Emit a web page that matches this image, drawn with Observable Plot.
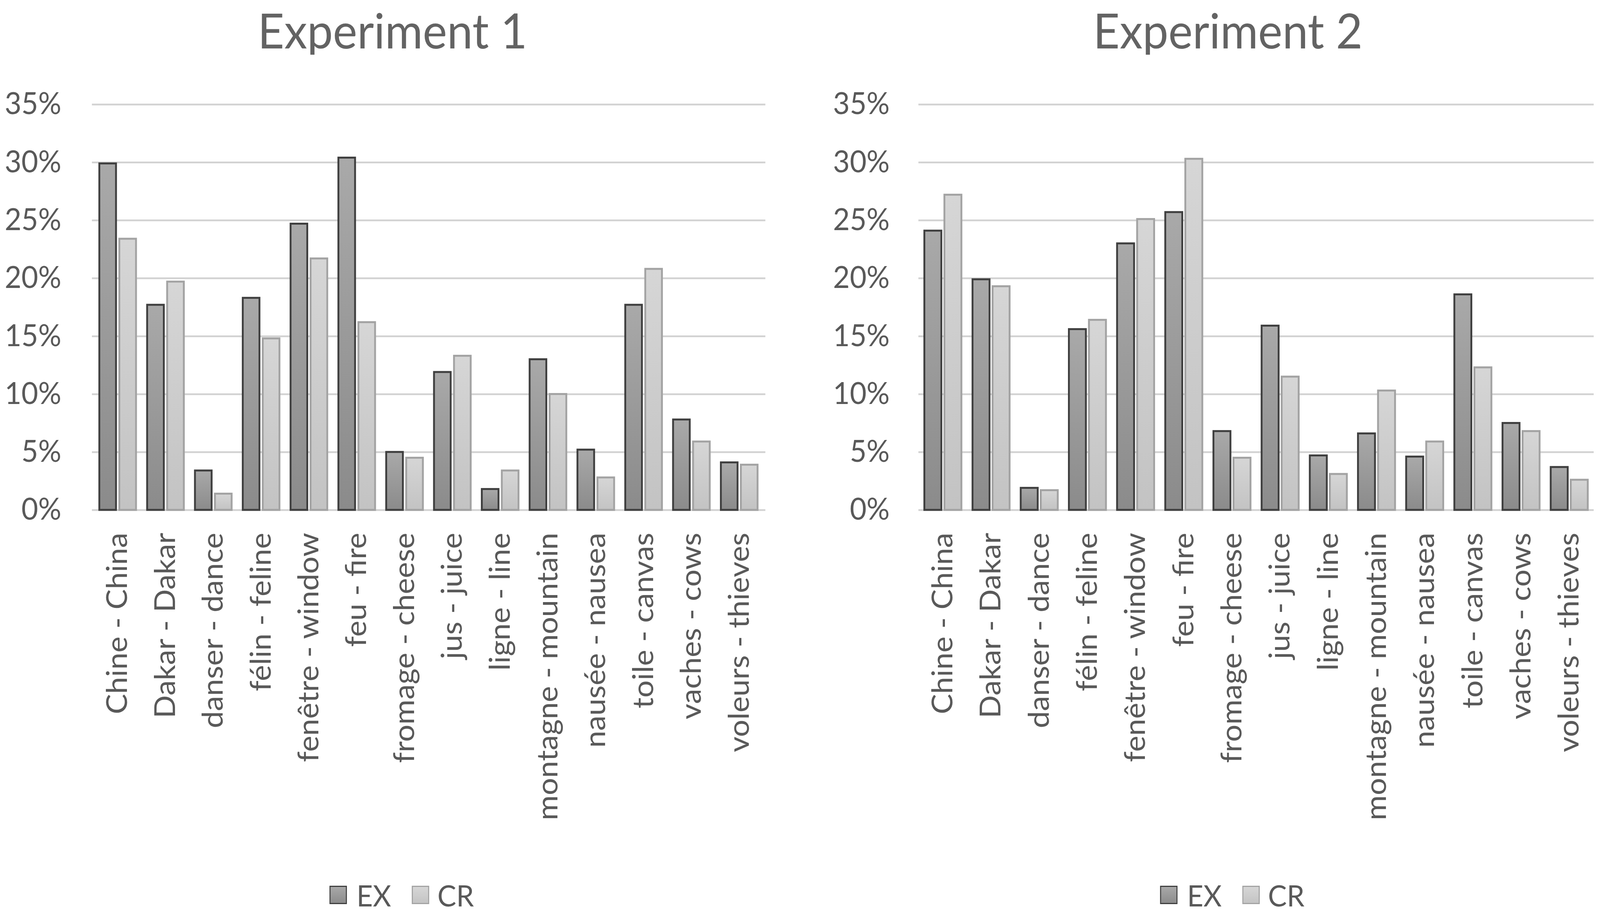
<!DOCTYPE html>
<html>
<head>
<meta charset="utf-8">
<script src="https://cdn.jsdelivr.net/npm/d3@7"></script>
<script src="https://cdn.jsdelivr.net/npm/@observablehq/plot@0.6"></script>
<style>
  html, body { margin: 0; padding: 0; background: #fff; overflow: hidden; }
  #wrap { position: absolute; left: 0; top: 0; width: 4317px; height: 2347px; transform-origin: 0 0; font-family: Lato, "Open Sans", sans-serif; background: #fff; }
  .title { position: absolute; top: 2px; font-size: 124px; color: #636363; white-space: nowrap; transform: translateX(-50%); }
  .chart { position: absolute; top: 140px; }
  .legend { position: absolute; top: 2250px; height: 80px; display: flex; align-items: center; font-size: 76px; color: #595959; }
  .sw { width: 41px; height: 41px; border: 3px solid; display: inline-block; box-sizing: content-box; }
</style>
</head>
<body>
<div id="wrap">
<div class="title" style="left:1059px">Experiment 1</div>
<div class="title" style="left:3313px">Experiment 2</div>
<div id="c1" class="chart" style="left:0px"></div>
<div id="c2" class="chart" style="left:2158px"></div>
<div class="legend" style="left:889px">
  <span class="sw" style="background:linear-gradient(#a8a8a8,#8c8c8c);border-color:#3f3f3f"></span>
  <span style="margin-left:26px">EX</span>
  <span class="sw" style="margin-left:56px;background:linear-gradient(#d6d6d6,#c4c4c4);border-color:#a3a3a3"></span>
  <span style="margin-left:22px">CR</span>
</div>
<div class="legend" style="left:3130px">
  <span class="sw" style="background:linear-gradient(#a8a8a8,#8c8c8c);border-color:#3f3f3f"></span>
  <span style="margin-left:26px">EX</span>
  <span class="sw" style="margin-left:56px;background:linear-gradient(#d6d6d6,#c4c4c4);border-color:#a3a3a3"></span>
  <span style="margin-left:22px">CR</span>
</div>
</div>
<script>
const categories = ["Chine - China", "Dakar - Dakar", "danser - dance", "félin - feline", "fenêtre - window", "feu - fire", "fromage - cheese", "jus - juice", "ligne - line", "montagne - mountain", "nausée - nausea", "toile - canvas", "vaches - cows", "voleurs - thieves"];
const series = ["EX", "CR"];
const exp1EX = [29.9, 17.7, 3.4, 18.3, 24.7, 30.4, 5.0, 11.9, 1.8, 13.0, 5.2, 17.7, 7.8, 4.1];
const exp1CR = [23.4, 19.7, 1.4, 14.8, 21.7, 16.2, 4.5, 13.3, 3.4, 10.0, 2.8, 20.8, 5.9, 3.9];
const exp2EX = [24.1, 19.9, 1.9, 15.6, 23.0, 25.7, 6.8, 15.9, 4.7, 6.6, 4.6, 18.6, 7.5, 3.7];
const exp2CR = [27.2, 19.3, 1.7, 16.4, 25.1, 30.3, 4.5, 11.5, 3.1, 10.3, 5.9, 12.3, 6.8, 2.6];
const yTicks = [0, 5, 10, 15, 20, 25, 30, 35];

function makeChart(el, id, exVals, crVals, opts) {
  const width = opts.width, height = 2060;
  const ml = opts.ml, mr = opts.mr, mt = 127, mb = 895;
  const pi = 0.23, po = 0.115, gap = 8;
  const W = width - ml - mr;
  const step = W / (categories.length - pi + 2 * po);
  const bw = step * (1 - pi);
  const inset = bw / 2 + gap / 2;
  const exData = categories.map((c, i) => ({cat: c, s: series[0], v: exVals[i]}));
  const crData = categories.map((c, i) => ({cat: c, s: series[1], v: crVals[i]}));
  const svg = Plot.plot({
    width, height,
    marginLeft: ml, marginRight: mr, marginTop: mt, marginBottom: mb,
    style: {fontFamily: "Lato, 'Open Sans', sans-serif", fontSize: "78px", color: "#595959", background: "#fff", maxWidth: "none"},
    x: {domain: categories, paddingInner: pi, paddingOuter: po},
    y: {domain: [0, 35]},
    marks: [
      Plot.ruleY(yTicks, {stroke: "#d2d2d2", strokeWidth: 4.5}),
      Plot.barY(exData, {x: "cat", y: "v", fill: `url(#gEX${id})`, stroke: "#3f3f3f", strokeWidth: 5, insetRight: inset}),
      Plot.barY(crData, {x: "cat", y: "v", fill: `url(#gCR${id})`, stroke: "#a3a3a3", strokeWidth: 5, insetLeft: inset}),
      Plot.axisX({tickRotate: -90, tickSize: 0, tickPadding: 58, fontSize: 78, label: null}),
      Plot.axisY({ticks: yTicks, tickSize: 0, tickPadding: opts.tp, tickFormat: d => d + "%", fontSize: 78, label: null})
    ]
  });
  const ns = "http://www.w3.org/2000/svg";
  const defs = document.createElementNS(ns, "defs");
  const grads = [["gEX" + id, "#a9a9a9", "#8b8b8b"], ["gCR" + id, "#d6d6d6", "#c3c3c3"]];
  for (const [gid, c1, c2] of grads) {
    const g = document.createElementNS(ns, "linearGradient");
    g.setAttribute("id", gid);
    g.setAttribute("x1", "0"); g.setAttribute("y1", "0");
    g.setAttribute("x2", "0"); g.setAttribute("y2", "1");
    const s1 = document.createElementNS(ns, "stop");
    s1.setAttribute("offset", "0"); s1.setAttribute("stop-color", c1);
    const s2 = document.createElementNS(ns, "stop");
    s2.setAttribute("offset", "1"); s2.setAttribute("stop-color", c2);
    g.appendChild(s1); g.appendChild(s2);
    defs.appendChild(g);
  }
  svg.insertBefore(defs, svg.firstChild);
  el.appendChild(svg);
}

makeChart(document.getElementById("c1"), 1, exp1EX, exp1CR, {width: 2158, ml: 248, mr: 93, tp: 83});
makeChart(document.getElementById("c2"), 2, exp2EX, exp2CR, {width: 2159, ml: 320, mr: 17, tp: 78});

function fit() {
  const sx = Math.min(1, window.innerWidth / 4317);
  const sy = Math.min(1, window.innerHeight / 2347);
  document.getElementById("wrap").style.transform = `scale(${sx}, ${sy})`;
}
fit();
window.addEventListener("resize", fit);
</script>
</body>
</html>
